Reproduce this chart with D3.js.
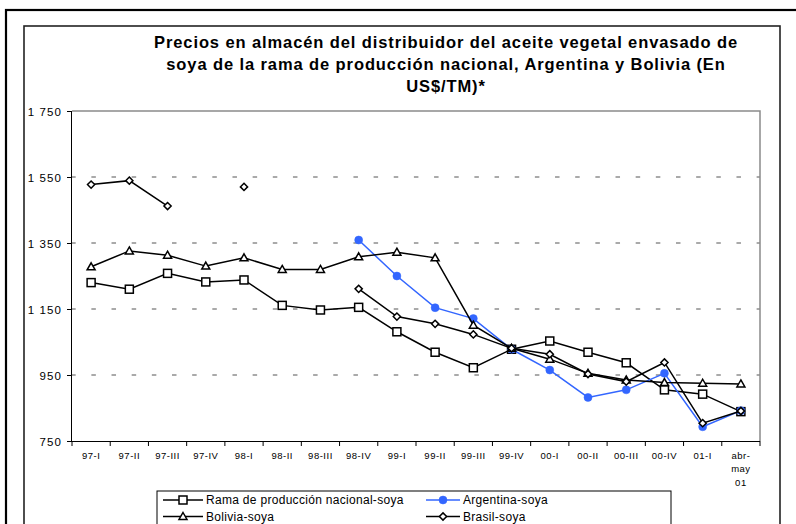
<!DOCTYPE html>
<html><head><meta charset="utf-8">
<script src="https://cdn.jsdelivr.net/npm/d3@7"></script>
<style>
html,body{margin:0;padding:0;background:#fff;}
svg{display:block;font-family:"Liberation Sans",Arial,sans-serif;}
</style></head>
<body>
<svg id="chart" width="796" height="524"></svg>
<script>
const titleLines = [
  "Precios en almacén del distribuidor del aceite vegetal envasado de",
  "soya de la rama de producción nacional, Argentina y Bolivia (En",
  "US$/TM)*"
];
const categories = ["97-I","97-II","97-III","97-IV","98-I","98-II","98-III","98-IV","99-I","99-II","99-III","99-IV","00-I","00-II","00-III","00-IV","01-I","abr-|may|01"];
const yTicks = [750, 950, 1150, 1350, 1550, 1750];
const rama      = [1230,1210,1258,1232,1238,1161,1147,1155,1081,1019,972,1028,1053,1019,987,905,892,839];
const argentina = [null,null,null,null,null,null,null,1359,1250,1154,1121,1028,965,882,905,955,793,842];
const bolivia   = [1278,1326,1313,1280,1305,1270,1270,1308,1322,1305,1101,1031,998,955,935,927,925,923];
const brasil    = [1527,1539,1462,null,1520,null,null,1211,1127,1105,1073,1031,1013,953,930,988,804,841];
const seriesNames = ["Rama de producción nacional-soya","Argentina-soya","Bolivia-soya","Brasil-soya"];

const svg = d3.select("#chart");
const plot = {l:72, r:760, t:111, b:441};
const blue = "#3366FF";

// outer borders
svg.append("rect").attr("x",6).attr("y",10).attr("width",820).attr("height",600)
  .attr("fill","none").attr("stroke","#000").attr("stroke-width",2.2);
svg.append("rect").attr("x",24).attr("y",26).attr("width",756).attr("height",600)
  .attr("fill","none").attr("stroke","#222").attr("stroke-width",1.6);

// title
svg.append("g").selectAll("text").data(titleLines).join("text")
  .attr("x",446).attr("y",(d,i)=>48+i*22)
  .attr("text-anchor","middle").attr("font-weight","bold").attr("font-size",16.5)
  .attr("letter-spacing",0.9)
  .attr("fill","#000").text(d=>d);

const x = d3.scaleBand().domain(categories).range([plot.l, plot.r]).padding(0);
const y = d3.scaleLinear().domain([750,1750]).range([plot.b, plot.t]);
const fmt = d3.formatLocale({decimal:",", thousands:" ", grouping:[3], currency:["$",""]}).format(",d");

// grid lines
svg.append("g").selectAll("line").data(yTicks.filter(v=>v>750 && v<1750)).join("line")
  .attr("x1",plot.l).attr("x2",plot.r).attr("y1",d=>y(d)).attr("y2",d=>y(d))
  .attr("stroke","#555").attr("stroke-width",1)
  .attr("stroke-dasharray","4.5,15.66").attr("stroke-dashoffset",0.8);

// plot border (top/right gray)
svg.append("path").attr("d",`M${plot.l},${plot.t}H${plot.r}V${plot.b}`)
  .attr("fill","none").attr("stroke","#8a8a8a").attr("stroke-width",1.5);

// y axis
const yAxis = d3.axisLeft(y).tickValues(yTicks).tickSize(5).tickPadding(5).tickFormat(fmt);
const gy = svg.append("g").attr("transform",`translate(${plot.l},0)`).call(yAxis);
gy.select(".domain").attr("stroke","#000").attr("d",`M-0.5,${plot.t}V${plot.b}`);
gy.selectAll(".tick line").attr("stroke","#000");
gy.selectAll(".tick text").attr("font-family","'Liberation Sans',Arial,sans-serif")
  .attr("font-size",11.5).attr("letter-spacing",1.1).attr("fill","#000").attr("dy","0.36em");

// x axis
const xAxis = d3.axisBottom(x).tickSize(0).tickPadding(0).tickFormat("");
const gx = svg.append("g").attr("transform",`translate(0,${plot.b})`).call(xAxis);
gx.select(".domain").attr("stroke","#000").attr("d",`M${plot.l},0.5H${plot.r}`);
const bounds = categories.map(c=>x(c)).concat([plot.r]);
gx.selectAll("line.bt").data(bounds).join("line").attr("class","bt")
  .attr("x1",d=>d).attr("x2",d=>d).attr("y1",0).attr("y2",5).attr("stroke","#000");
gx.selectAll(".tick").each(function(d){
  const t = d3.select(this).select("text");
  t.text(null).attr("y",0).attr("dy",null)
   .attr("font-family","'Liberation Sans',Arial,sans-serif").attr("font-size",9.5)
   .attr("letter-spacing",0.5).attr("fill","#000");
  d.split("|").forEach((s,i)=>{
    t.append("tspan").attr("x",0).attr("y",17.5+i*13.5).text(s);
  });
});

// series
const line = d3.line().defined(d=>d!=null).x((d,i)=>x(categories[i])+x.bandwidth()/2).y(d=>y(d));
const cx = i => x(categories[i])+x.bandwidth()/2;

function drawMarker(g, type, px, py){
  if(type==="square"){
    g.append("rect").attr("x",px-4).attr("y",py-4).attr("width",8).attr("height",8)
      .attr("fill","#fff").attr("stroke","#000").attr("stroke-width",1.5);
  } else if(type==="triangle"){
    g.append("path").attr("d",`M${px},${py-4}L${px+4},${py+3}L${px-4},${py+3}Z`)
      .attr("fill","#fff").attr("stroke","#000").attr("stroke-width",1.5);
  } else if(type==="diamond"){
    g.append("path").attr("d",`M${px},${py-3.6}L${px+3.6},${py}L${px},${py+3.6}L${px-3.6},${py}Z`)
      .attr("fill","#fff").attr("stroke","#000").attr("stroke-width",1.5);
  } else if(type==="circle"){
    g.append("circle").attr("cx",px).attr("cy",py).attr("r",4)
      .attr("fill",blue).attr("stroke",blue).attr("stroke-width",0.5);
  }
}

const series = [
  {data:rama, color:"#000", marker:"square"},
  {data:argentina, color:blue, marker:"circle"},
  {data:bolivia, color:"#000", marker:"triangle"},
  {data:brasil, color:"#000", marker:"diamond"}
];
series.forEach(s=>{
  const g = svg.append("g");
  g.append("path").datum(s.data).attr("d",line).attr("fill","none")
    .attr("stroke",s.color).attr("stroke-width",1.5);
  s.data.forEach((v,i)=>{ if(v!=null) drawMarker(g, s.marker, cx(i), y(v)); });
});

// legend
const lg = svg.append("g");
lg.append("rect").attr("x",157).attr("y",491).attr("width",514).attr("height",60)
  .attr("fill","#fff").attr("stroke","#000").attr("stroke-width",1);
const legendPos = [
  {lx:163, ty:500, s:series[0], name:seriesNames[0]},
  {lx:426, ty:500, s:series[1], name:seriesNames[1]},
  {lx:163, ty:516.5, s:series[2], name:seriesNames[2]},
  {lx:426, ty:516.5, s:series[3], name:seriesNames[3]}
];
legendPos.forEach(p=>{
  const g = lg.append("g");
  const w = p.lx===163 ? 40 : 34;
  g.append("line").attr("x1",p.lx).attr("x2",p.lx+w).attr("y1",p.ty).attr("y2",p.ty)
    .attr("stroke",p.s.color).attr("stroke-width",1.5);
  drawMarker(g, p.s.marker, p.lx+w/2, p.ty);
  g.append("text").attr("x",p.lx+w+3).attr("y",p.ty).attr("dy","0.35em")
    .attr("font-size",12).attr("letter-spacing",0.3).attr("fill","#000").text(p.name);
});
</script>
</body></html>
